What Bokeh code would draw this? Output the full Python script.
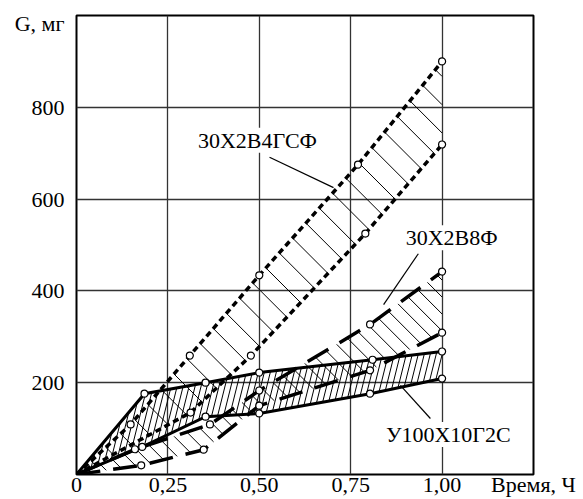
import numpy as np
from bokeh.plotting import figure
from bokeh.models import Label, FixedTicker, Range1d
from bokeh.embed import file_html
from bokeh.resources import INLINE

# ---------------- data (time, h ; mass loss G, mg) ----------------
t_4gsf_hi = [0, 0.148, 0.31, 0.50, 0.77, 1.00]
g_4gsf_hi = [0, 109, 259, 434, 675, 900]
t_4gsf_lo = [0, 0.312, 0.477, 0.79, 1.00]
g_4gsf_lo = [0, 135, 259, 525, 719]

t_8f_hi = [0, 0.16, 0.365, 0.50, 0.803, 1.00]
g_8f_hi = [0, 55, 109, 183, 327, 442]
t_8f_lo = [0, 0.177, 0.348, 0.50, 0.803, 1.00]
g_8f_lo = [0, 20, 54, 150, 227, 309]

t_u_hi = [0, 0.186, 0.353, 0.50, 0.81, 1.00]
g_u_hi = [0, 176, 200, 222, 250, 268]
t_u_lo = [0, 0.18, 0.353, 0.50, 0.803, 1.00]
g_u_lo = [0, 60, 126, 133, 176, 209]

x_ticks = [0, 0.25, 0.5, 0.75, 1, 1.25]
x_tick_labels = ["0", "0,25", "0,50", "0,75", "1,00", "Время, Ч"]
y_ticks = [200, 400, 600, 800]
y_tick_labels = ["200", "400", "600", "800"]
y_title = "G, мг"
names = ["30Х2В4ГСФ", "30Х2В8Ф", "У100Х10Г2С"]

# ---------------- layout ----------------
FONT = "Liberation Serif"
FS = "22px"
W, H = 583, 499
ML, MR, MT = 76, 50, 15
XMAX, YMAX = 1.25, 1000
Y_TITLE_AT = 983
FW = W - ML - MR
FH = 459
kx, ky = FW / XMAX, FH / YMAX

p = figure(width=W, height=H, output_backend="svg", toolbar_location=None,
           x_range=Range1d(0, XMAX), y_range=Range1d(0, YMAX),
           min_border_left=ML, min_border_right=MR, min_border_top=MT,
           min_border_bottom=0)
p.background_fill_color = "white"
p.border_fill_color = "white"
p.outline_line_color = "black"
p.outline_line_width = 2
p.outline_line_alpha = 1

p.xaxis.ticker = FixedTicker(ticks=x_ticks)
p.xaxis.major_label_overrides = {k: v for k, v in zip(x_ticks, x_tick_labels)}
p.yaxis.ticker = FixedTicker(ticks=y_ticks + [Y_TITLE_AT])
yo = {k: v for k, v in zip(y_ticks, y_tick_labels)}
yo[Y_TITLE_AT] = y_title
p.yaxis.major_label_overrides = yo
for ax in (p.xaxis, p.yaxis):
    ax.axis_line_color = None
    ax.major_tick_line_color = None
    ax.minor_tick_line_color = None
    ax.major_tick_out = 0
    ax.major_tick_in = 0
    ax.minor_tick_out = 0
    ax.minor_tick_in = 0
    ax.major_label_text_font = FONT
    ax.major_label_text_font_size = FS
    ax.major_label_text_color = "black"
p.xaxis.major_label_standoff = -3
p.yaxis.major_label_standoff = 12
p.xgrid.ticker = FixedTicker(ticks=[0.25, 0.5, 0.75, 1.0])
p.ygrid.ticker = FixedTicker(ticks=y_ticks)
for g in (p.xgrid, p.ygrid):
    g.grid_line_color = "#333333"
    g.grid_line_width = 1.3


def hatch(xu, gu, xl, gl, angle_deg, spacing, xend=1.0):
    a = np.radians(angle_deg)
    n0, n1 = -np.sin(a), np.cos(a)
    t = np.linspace(0, xend, 3000)
    UX, UY = t * kx, np.interp(t, xu, gu) * ky
    LX, LY = t * kx, np.interp(t, xl, gl) * ky
    cu = UX * n0 + UY * n1
    cl = LX * n0 + LY * n1

    def cross(c, cc, X, Y):
        if cc[-1] < cc[0]:
            cc, X, Y = cc[::-1], X[::-1], Y[::-1]
        if c < cc[0] or c > cc[-1]:
            return None
        return (np.interp(c, cc, X), np.interp(c, cc, Y))

    allc = np.concatenate([cu, cl])
    cmin, cmax = allc.min(), allc.max()
    xs, ys = [], []
    c = cmin + spacing
    while c < cmax:
        pts = []
        pu = cross(c, cu, UX, UY)
        if pu is not None:
            pts.append(pu)
        pl = cross(c, cl, LX, LY)
        if pl is not None:
            pts.append(pl)
        xe = xend * kx
        ye = (c - xe * n0) / n1
        if LY[-1] <= ye <= UY[-1]:
            pts.append((xe, ye))
        if len(pts) >= 2:
            (x1, y1), (x2, y2) = pts[0], pts[1]
            if abs(x1 - x2) + abs(y1 - y2) > 1.5:
                xs.append([x1 / kx, x2 / kx])
                ys.append([y1 / ky, y2 / ky])
        c += spacing
    return xs, ys


# hatching
hx, hy = hatch(t_4gsf_hi, g_4gsf_hi, t_4gsf_lo, g_4gsf_lo, -45, 20)
p.multi_line(hx, hy, line_color="black", line_width=1)
hx, hy = hatch(t_8f_hi, g_8f_hi, t_8f_lo, g_8f_lo, -45, 12)
p.multi_line(hx, hy, line_color="black", line_width=1)
hx, hy = hatch(t_u_hi, g_u_hi, t_u_lo, g_u_lo, 76, 5.8)
p.multi_line(hx, hy, line_color="black", line_width=1)

# boundary curves
for tt, gg in ((t_4gsf_hi, g_4gsf_hi), (t_4gsf_lo, g_4gsf_lo)):
    p.line(tt, gg, line_color="black", line_width=3.5, line_dash="6 4", line_cap="butt")
for tt, gg in ((t_8f_hi, g_8f_hi), (t_8f_lo, g_8f_lo)):
    p.line(tt, gg, line_color="black", line_width=3.5, line_dash="24 13", line_cap="butt")
for tt, gg in ((t_u_hi, g_u_hi), (t_u_lo, g_u_lo)):
    p.line(tt, gg, line_color="black", line_width=3, line_join="miter")

# markers
for tt, gg in ((t_4gsf_hi, g_4gsf_hi), (t_4gsf_lo, g_4gsf_lo), (t_8f_hi, g_8f_hi),
               (t_8f_lo, g_8f_lo), (t_u_hi, g_u_hi), (t_u_lo, g_u_lo)):
    p.scatter(tt[1:], gg[1:], marker="circle", size=7, fill_color="white",
              line_color="black", line_width=1.2)

# leader lines
p.segment(x0=[0.528, 0.935, 0.886], y0=[691, 481, 194],
          x1=[0.703, 0.840, 0.968], y1=[625, 370, 122],
          line_color="black", line_width=1.2)

# labels
for txt, lx, ly in zip(names, [0.495, 1.026, 1.017], [728, 516, 87]):
    p.add_layout(Label(x=lx, y=ly, text=txt, text_font=FONT, text_font_size=FS,
                       text_align="center", text_baseline="middle",
                       background_fill_color="white", text_color="black"))

open("out.html", "w").write(file_html(p, INLINE))
